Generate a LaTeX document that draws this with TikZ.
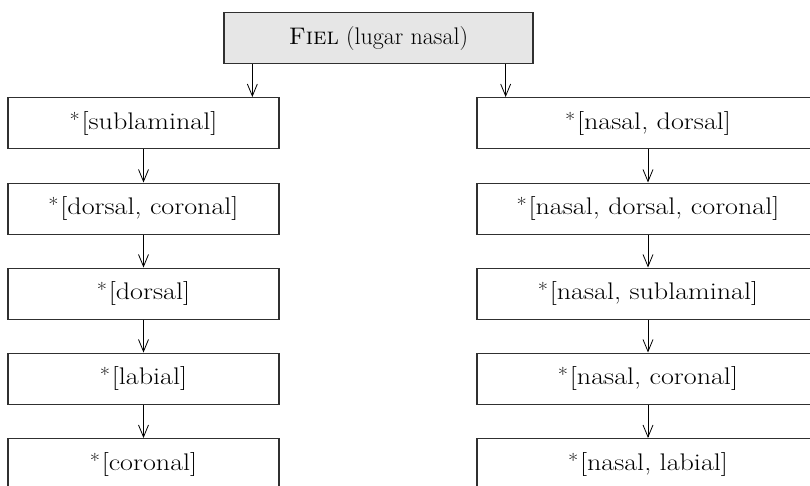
\documentclass[tikz,border=0pt]{standalone}
\usetikzlibrary{arrows.meta}
\definecolor{boxline}{HTML}{303030}
\definecolor{headfill}{HTML}{E6E6E6}
% widened setting for box labels
\newcommand{\widelabel}[1]{\scalebox{1.17}[1]{#1}}
% starred (banned) feature bundle
\newcommand{\banned}[1]{\widelabel{\raisebox{0.12em}{\fontsize{19}{19}\selectfont *}\kern1.5pt[#1]}}
\begin{document}
\begin{tikzpicture}[x=1pt,y=-1pt,
  constraint/.style={draw=boxline,line width=1.3pt,fill=white,
    minimum height=51pt,inner sep=0pt,anchor=north,
    font=\fontsize{24}{28}\selectfont},
  leftbox/.style={constraint,minimum width=271pt},
  rightbox/.style={constraint,minimum width=342pt},
  headbox/.style={constraint,fill=headfill,minimum width=309pt},
  arr/.style={draw=black,line width=0.8pt,
    -{Straight Barb[length=12pt,width=10pt,line width=0.8pt]}}]
\clip (0,0) rectangle (810,485);

% faithfulness constraint heading
\node[headbox] (top) at (378.5,12) {\textsc{Fiel} (lugar nasal)};

% left column: place markedness hierarchy
\node[leftbox] (l1) at (143.5,97)    {\banned{sublaminal}};
\node[leftbox] (l2) at (143.5,182.5) {\banned{dorsal, coronal}};
\node[leftbox] (l3) at (143.5,267.5) {\banned{dorsal}};
\node[leftbox] (l4) at (143.5,352.5) {\banned{labial}};
\node[leftbox] (l5) at (143.5,438)   {\banned{coronal}};

% right column: nasal place hierarchy
\node[rightbox] (r1) at (648,97)    {\banned{nasal, dorsal}};
\node[rightbox] (r2) at (648,182.5) {\banned{nasal, dorsal, coronal}};
\node[rightbox] (r3) at (648,267.5) {\banned{nasal, sublaminal}};
\node[rightbox] (r4) at (648,352.5) {\banned{nasal, coronal}};
\node[rightbox] (r5) at (648,438)   {\banned{nasal, labial}};

% connectors from the heading
\draw[arr] ([xshift=29pt]top.south west) -- ([xshift=29pt]top.south west |- l1.north);
\draw[arr] ([xshift=-28pt]top.south east) -- ([xshift=-28pt]top.south east |- r1.north);

% ranking arrows
\foreach \a/\b in {l1/l2,l2/l3,l3/l4,l4/l5,r1/r2,r2/r3,r3/r4,r4/r5}
  \draw[arr] (\a.south) -- (\b.north);
\end{tikzpicture}
\end{document}
